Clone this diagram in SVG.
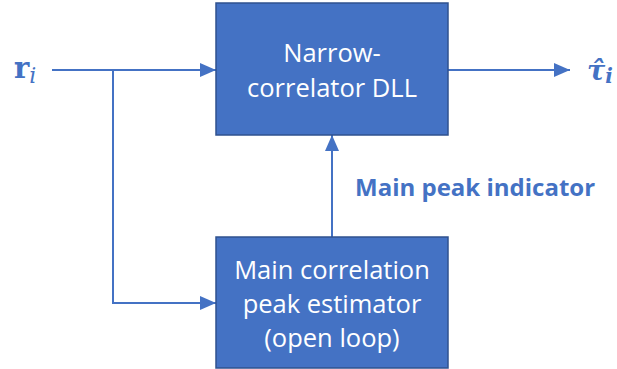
<svg xmlns="http://www.w3.org/2000/svg" width="617" height="369" viewBox="0 0 617 369">
  <style>
    .box { fill: #4472C4; stroke: #2F528F; stroke-width: 1.5; }
    .box-text { fill: #FFFFFF; font-family: "Open Sans", "Liberation Sans", sans-serif; font-size: 25.5px; text-anchor: middle; }
    .wire { fill: none; stroke: #4472C4; stroke-width: 2; }
    .label { fill: #4472C4; font-family: "Open Sans", "Liberation Sans", sans-serif; font-weight: bold; font-size: 24px; }
    .math { fill: #4472C4; font-family: "DejaVu Serif", "Liberation Serif", serif; }
  </style>
  <defs>
    <marker id="arrowBig" viewBox="0 0 16 14" refX="16" refY="7" markerWidth="16" markerHeight="14" markerUnits="userSpaceOnUse" orient="auto">
      <path d="M0,0 L16,7 L0,14 z" fill="#4472C4"/>
    </marker>
  </defs>

  <g id="connectors">
    <!-- input r_i into the DLL -->
    <path class="wire" d="M52,70 L216,70" marker-end="url(#arrowBig)"/>
    <!-- branch down to the open-loop estimator -->
    <path class="wire" d="M113,70 L113,303 L216,303" marker-end="url(#arrowBig)"/>
    <!-- DLL output -->
    <path class="wire" d="M448,70 L570,70" marker-end="url(#arrowBig)"/>
    <!-- main peak indicator feedback -->
    <path class="wire" d="M332,237 L332,135" marker-end="url(#arrowBig)"/>
  </g>

  <g id="input-label">
    <text class="math" x="14" y="78" font-size="29" font-weight="bold" font-family="Liberation Serif, serif">r<tspan font-size="22" font-style="italic" font-weight="normal" dy="5">i</tspan></text>
  </g>

  <g id="output-label">
    <text class="math" x="587" y="80" font-size="27" font-weight="bold" font-style="italic">τ̂<tspan font-size="20" dy="3">i</tspan></text>
  </g>

  <g id="dll">
    <rect class="box" x="216" y="3" width="232" height="132"/>
    <text class="box-text" x="332" y="62">Narrow-</text>
    <text class="box-text" x="332" y="97">correlator DLL</text>
  </g>

  <g id="estimator">
    <rect class="box" x="216" y="237" width="232" height="131"/>
    <text class="box-text" x="332" y="279">Main correlation</text>
    <text class="box-text" x="332" y="313">peak estimator</text>
    <text class="box-text" x="332" y="347">(open loop)</text>
  </g>

  <g id="indicator-label">
    <text class="label" x="355" y="196">Main peak indicator</text>
  </g>
</svg>
